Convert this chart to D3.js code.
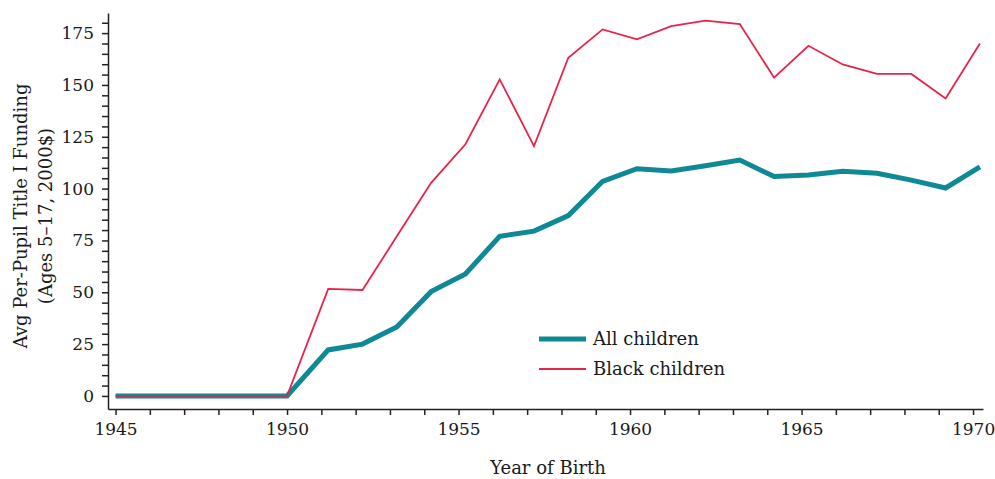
<!DOCTYPE html>
<html>
<head>
<meta charset="utf-8">
<script src="https://cdn.jsdelivr.net/npm/d3@7"></script>
<style>
  html, body { margin: 0; padding: 0; background: #fff; }
  svg { display: block; font-family: "DejaVu Serif", serif; }
  .axis text { font-size: 17px; fill: #1a1a1a; font-family: "DejaVu Serif", serif; }
  .axis path, .axis line { stroke: #222; stroke-width: 1.5; }
</style>
</head>
<body>
<svg id="chart" width="995" height="479"></svg>
<script>
// Birth cohorts (year of birth) and average per-pupil Title I funding
const years = [1945, 1946, 1947, 1948, 1949, 1950,
  1951.2, 1952.2, 1953.2, 1954.2, 1955.2, 1956.2, 1957.2, 1958.2, 1959.2, 1960.2,
  1961.2, 1962.2, 1963.2, 1964.2, 1965.2, 1966.2, 1967.2, 1968.2, 1969.2, 1970.2];
const allChildren = [0, 0, 0, 0, 0, 0,
  22.2, 25, 33.3, 50.3, 58.8, 77, 79.5, 87, 103.5, 109.6,
  108.5, 111, 113.8, 105.8, 106.6, 108.4, 107.4, 104.1, 100.3, 110.5];
const blackChildren = [0, 0, 0, 0, 0, 0,
  51.6, 51.1, 77, 102.8, 121.4, 152.7, 120.5, 163.1, 176.8, 172,
  178.4, 181, 179.4, 153.5, 168.9, 159.9, 155.3, 155.3, 143.5, 170];
const xTicks = d3.range(1945, 1971, 1);
const yTicks = d3.range(0, 185, 5);
const seriesNames = ["All children", "Black children"];
const colors = ["#0f8996", "#e8234b"];

const svg = d3.select("#chart");

const x = d3.scaleLinear().domain([1944.78, 1970.29]).range([108, 983]);
const y = d3.scaleLinear().domain([-6.3, 184.7]).range([409, 13]);

// Axes
svg.append("g")
  .attr("class", "axis")
  .attr("transform", "translate(0,409)")
  .call(d3.axisBottom(x).tickValues(xTicks).tickSize(6).tickSizeOuter(0).tickPadding(8)
    .tickFormat(d => d % 5 === 0 ? d3.format("d")(d) : ""));

svg.append("g")
  .attr("class", "axis")
  .attr("transform", "translate(108,0)")
  .call(d3.axisLeft(y).tickValues(yTicks).tickSize(6).tickSizeOuter(0).tickPadding(8)
    .tickFormat(d => d % 25 === 0 ? d : ""));

// Axis titles
svg.append("text")
  .attr("x", 548).attr("y", 474)
  .attr("text-anchor", "middle")
  .attr("font-size", 18).attr("fill", "#1a1a1a")
  .text("Year of Birth");

const yTitle = svg.append("text")
  .attr("transform", "translate(0,216) rotate(-90)")
  .attr("text-anchor", "middle")
  .attr("font-size", 18).attr("fill", "#1a1a1a");
yTitle.append("tspan").attr("x", 0).attr("y", 27).text("Avg Per-Pupil Title I Funding");
yTitle.append("tspan").attr("x", 0).attr("y", 52).text("(Ages 5\u201317, 2000$)");

// Lines
const line = d3.line()
  .x((d, i) => x(years[i]))
  .y(d => y(d));

svg.append("path")
  .datum(allChildren)
  .attr("fill", "none")
  .attr("stroke", colors[0])
  .attr("stroke-width", 5)
  .attr("stroke-linejoin", "miter")
  .attr("d", line);

svg.append("path")
  .datum(blackChildren)
  .attr("fill", "none")
  .attr("stroke", colors[1])
  .attr("stroke-width", 1.8)
  .attr("d", line);

// Legend
const legend = svg.append("g").attr("transform", "translate(539,339)");
seriesNames.forEach((name, i) => {
  const g = legend.append("g").attr("transform", `translate(0,${i * 30})`);
  g.append("line")
    .attr("x1", 0).attr("x2", 47)
    .attr("stroke", colors[i])
    .attr("stroke-width", i === 0 ? 5 : 1.8);
  g.append("text")
    .attr("x", 54).attr("y", 6)
    .attr("font-size", 18).attr("fill", "#1a1a1a")
    .text(name);
});
</script>
</body>
</html>
